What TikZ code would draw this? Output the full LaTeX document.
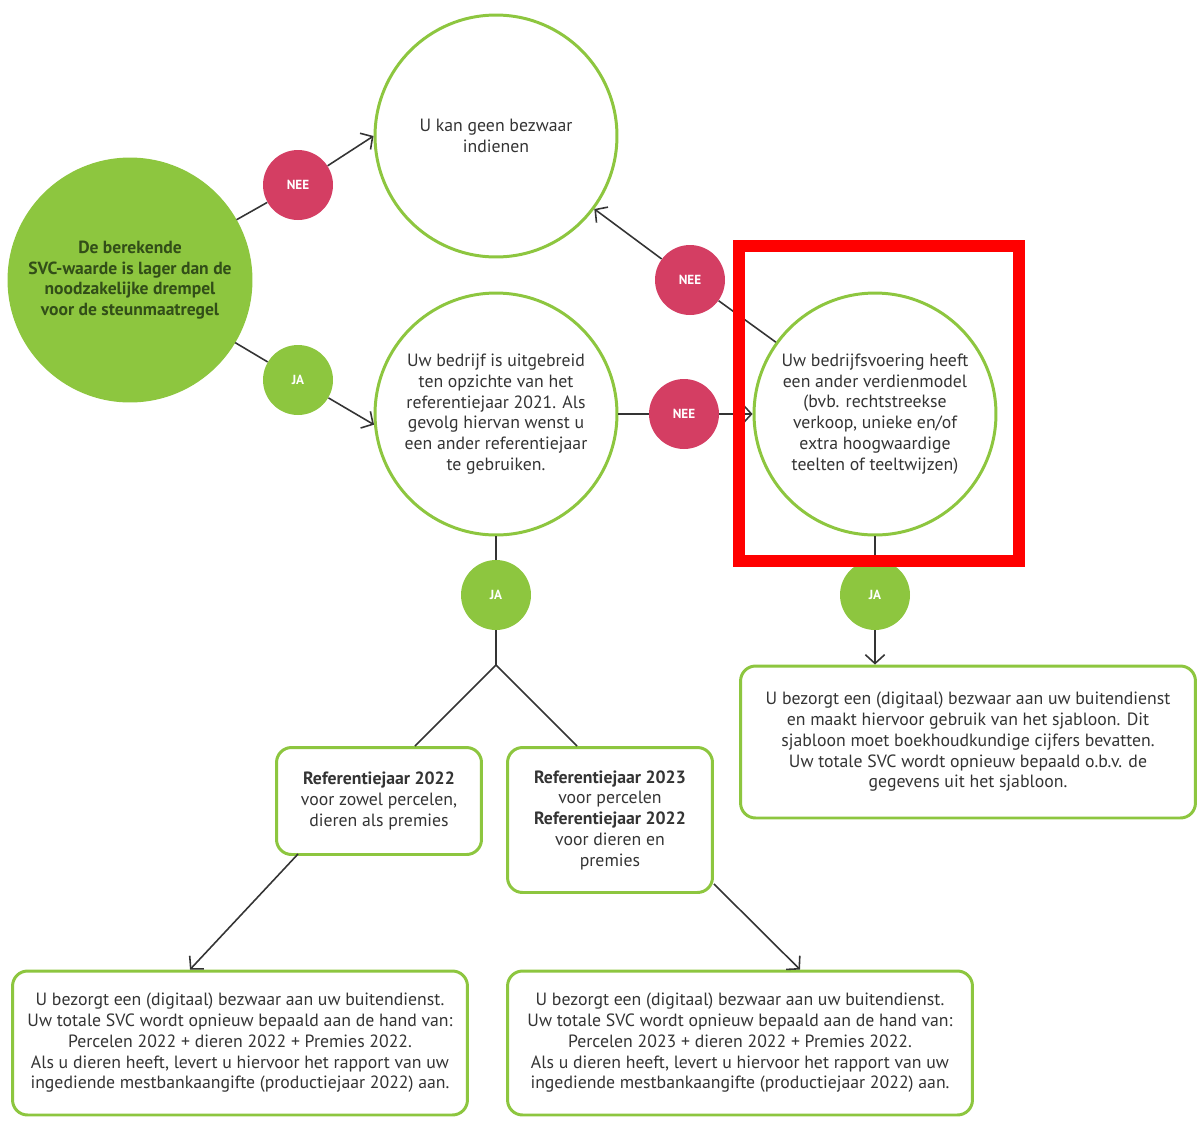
\documentclass[tikz,border=0pt]{standalone}
\usepackage{fontspec}
\setmainfont{PT Sans}
\usepackage{tikz}
\usetikzlibrary{arrows.meta}
\definecolor{lgreen}{RGB}{141,198,63}
\definecolor{nee}{RGB}{212,62,99}
\definecolor{txt}{RGB}{52,52,52}
\definecolor{dgreen}{RGB}{50,78,24}

\begin{document}
\begin{tikzpicture}[x=0.02cm,y=-0.02cm,
  font=\fontsize{10.1}{11.8}\selectfont,
  bigc/.style={circle,draw=lgreen,line width=1.7pt,fill=white,minimum size=4.84cm,inner sep=0pt,align=center,text=txt},
  yes/.style={circle,fill=lgreen,minimum size=1.4cm,inner sep=0pt,text=white,font=\fontsize{7.5}{9}\selectfont\bfseries},
  no/.style={yes,fill=nee},
  box/.style={rectangle,rounded corners=0.3cm,draw=lgreen,line width=1.7pt,fill=white,align=center,text=txt},
  link/.style={draw=txt,line width=0.9pt},
  >={Straight Barb[length=5pt,width=11pt]}]
\useasboundingbox (0,0) rectangle (1197,1120);

\node [bigc,fill=lgreen,text=dgreen,font=\fontsize{10}{11.8}\selectfont\bfseries] (svc) at (130,280) {De berekende\\SVC-waarde is lager dan de\\noodzakelijke drempel\\voor de steunmaatregel};
\node [no] (nee1) at (298,185) {NEE};
\node [yes] (ja1) at (298,380) {JA};
\node [bigc] (top) at (496,136) {U kan geen bezwaar\\indienen};
\node [bigc] (mid) at (496,414) {Uw bedrijf is uitgebreid\\ten opzichte van het\\referentiejaar 2021. Als\\gevolg hiervan wenst u\\een ander referentiejaar\\te gebruiken.};
\node [no] (nee2) at (684,414) {NEE};
\node [no] (nee3) at (690,280) {NEE};
\node [bigc] (model) at (875,414) {Uw bedrijfsvoering heeft\\een ander verdienmodel\\(bvb. rechtstreekse\\verkoop, unieke en/of\\extra hoogwaardige\\teelten of teeltwijzen)};
\node [yes] (ja2) at (875,595) {JA};
\node [yes] (ja3) at (496,595) {JA};
\coordinate (fork) at (496,665);

\node [box,minimum width=9.1cm,minimum height=3.04cm] (sjab) at (968,742) {U bezorgt een (digitaal) bezwaar aan uw buitendienst\\en maakt hiervoor gebruik van het sjabloon. Dit\\sjabloon moet boekhoudkundige cijfers bevatten.\\Uw totale SVC wordt opnieuw bepaald o.b.v. de\\gegevens uit het sjabloon.};
\node [box,minimum width=4.1cm,minimum height=2.14cm] (ref1) at (379,801) {\textbf{Referentiejaar 2022}\\voor zowel percelen,\\dieren als premies};
\node [box,minimum width=4.1cm,minimum height=2.9cm] (ref2) at (610,820) {\textbf{Referentiejaar 2023}\\voor percelen\\\textbf{Referentiejaar 2022}\\voor dieren en\\premies};
\node [box,minimum width=9.1cm,minimum height=2.88cm] (res1) at (240,1043) {U bezorgt een (digitaal) bezwaar aan uw buitendienst.\\Uw totale SVC wordt opnieuw bepaald aan de hand van:\\Percelen 2022 + dieren 2022 + Premies 2022.\\Als u dieren heeft, levert u hiervoor het rapport van uw\\ingediende mestbankaangifte (productiejaar 2022) aan.};
\node [box,minimum width=9.3cm,minimum height=2.88cm] (res2) at (740,1043) {U bezorgt een (digitaal) bezwaar aan uw buitendienst.\\Uw totale SVC wordt opnieuw bepaald aan de hand van:\\Percelen 2023 + dieren 2022 + Premies 2022.\\Als u dieren heeft, levert u hiervoor het rapport van uw\\ingediende mestbankaangifte (productiejaar 2022) aan.};

\draw [link] (svc) -- (nee1);
\draw [link,->] (nee1) -- (top.west);
\draw [link] (svc) -- (ja1);
\draw [link,->] (ja1) -- (mid.185);
\draw [link] (mid) -- (nee2);
\draw [link,->] (nee2) -- (model);
\draw [link] (model) -- (nee3);
\draw [link,->] (nee3) -- (top);
\draw [link] (model) -- (ja2);
\draw [link,->] (ja2) -- (ja2 |- sjab.north);
\draw [link] (mid) -- (ja3);
\draw [link] (ja3) -- (fork);
\draw [link] (fork) -- ([xshift=0.72cm]ref1.north);
\draw [link] (fork) -- ([xshift=-0.66cm]ref2.north);
\draw [link,->] ([xshift=0.46cm,yshift=0.04cm]ref1.south west) -- ([xshift=-1cm]res1.north);
\draw [link,->] ([yshift=0.2cm]ref2.south east) -- ([xshift=1.2cm]res2.north);

\draw [red,line width=0.24cm] (739,246) rectangle (1019,561);
\end{tikzpicture}
\end{document}
